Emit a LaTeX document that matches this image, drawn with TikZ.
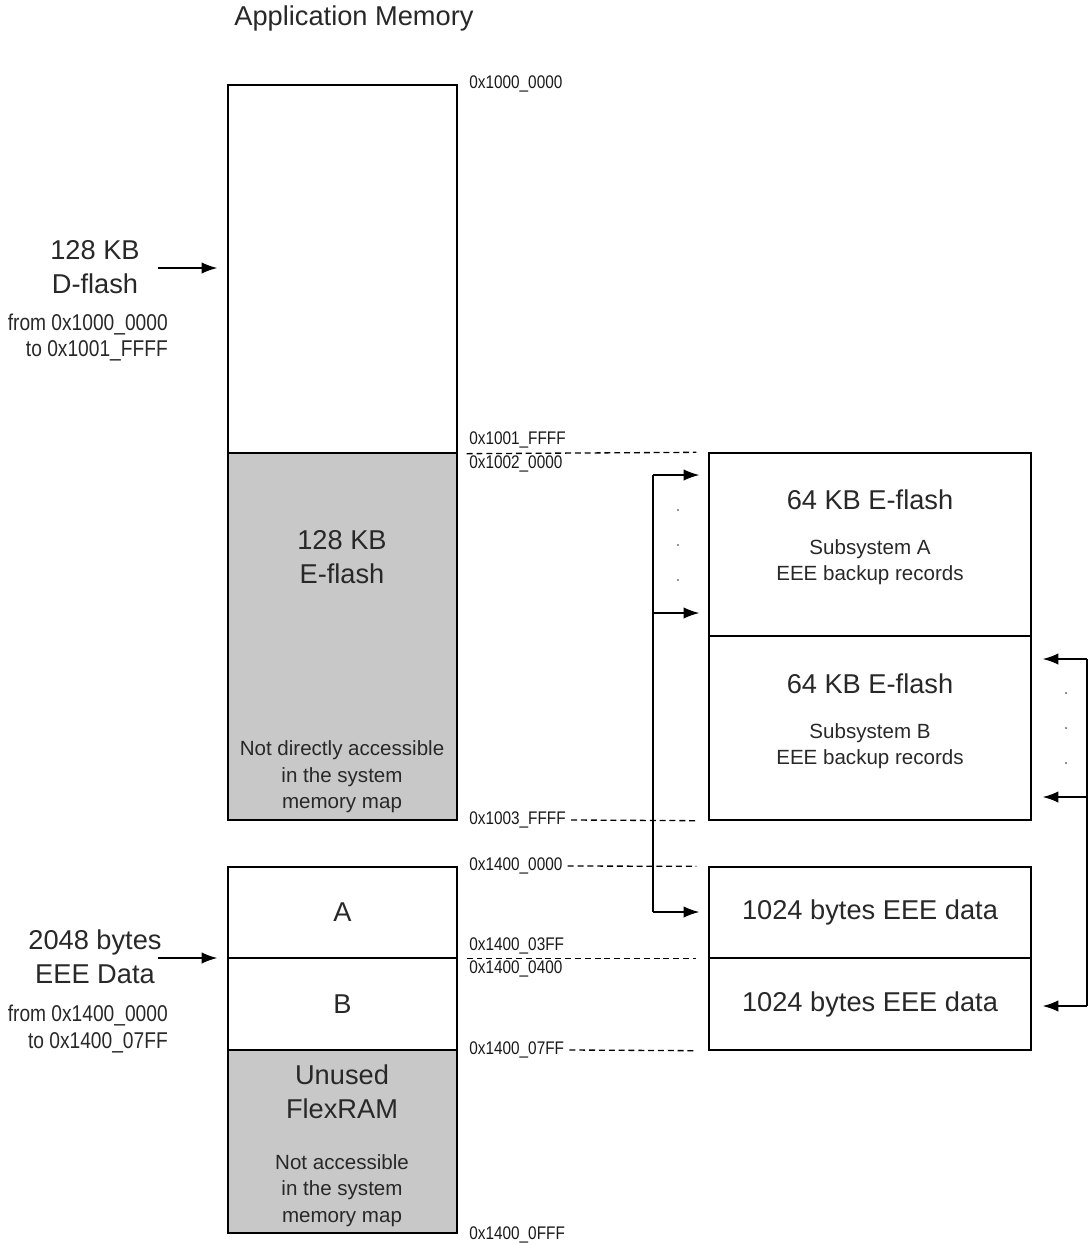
\documentclass[tikz,border=0pt]{standalone}
\usepackage{fontspec}
\setmainfont{Liberation Sans}
\newfontfamily\narrowfont[FakeStretch=0.84]{Liberation Sans}
\usetikzlibrary{arrows.meta,positioning,calc}
\definecolor{memgray}{RGB}{200,200,200}
\definecolor{memtext}{RGB}{40,40,40}

\begin{document}
\begin{tikzpicture}[x=0.02cm, y=-0.02cm,
  memblock/.style={draw, line width=0.8pt, minimum width=4.58cm, inner sep=0pt},
  eeeblock/.style={draw, line width=0.8pt, minimum width=6.44cm, inner sep=0pt},
  bigtxt/.style={font=\fontsize{15.5}{19.5}\selectfont, text=memtext, align=center},
  smalltxt/.style={font=\fontsize{11.7}{15}\selectfont, text=memtext, align=center},
  addr/.style={font=\narrowfont\fontsize{10.4}{11}\selectfont, text=black!90, anchor=west, inner sep=0pt},
  rangetxt/.style={font=\narrowfont\fontsize{13}{15.3}\selectfont, text=memtext, align=right},
  arr/.style={-{Latex[length=9pt,width=6.5pt]}, line width=0.8pt},
  addrline/.style={dash pattern=on 3.4pt off 2.2pt, line width=0.75pt},
  dot/.style={fill=black!55}]
  \useasboundingbox (0,0) rectangle (1090,1245);

  \node[bigtxt] (title) at (354,18) {Application Memory};

  % application memory column
  \node[memblock, minimum height=7.36cm] (dflash) at (342.5,269) {};
  \node[memblock, fill=memgray, minimum height=7.34cm] (eflash) at (342.5,636.5) {};
  \node[bigtxt] (eflashname) at (342,557) {128 KB\\E-flash};
  \node[smalltxt] (eflashnote) at (342,777) {Not directly accessible\\in the system\\memory map};
  \node[memblock, bigtxt, minimum height=1.82cm] (blkA) at (342.5,912.5) {A};
  \node[memblock, bigtxt, minimum height=1.84cm] (blkB) at (342.5,1004) {B};
  \node[memblock, fill=memgray, minimum height=3.66cm] (unused) at (342.5,1141.5) {};
  \node[bigtxt] (unusedname) at (342,1091.5) {Unused\\FlexRAM};
  \node[smalltxt] (unusednote) at (342,1190.5) {Not accessible\\in the system\\memory map};

  % EEE column
  \node[eeeblock, minimum height=3.66cm] (subA) at (870,544.5) {};
  \node[bigtxt] (subAname) at (870,500) {64 KB E-flash};
  \node[smalltxt] (subAnote) at (870,562) {Subsystem A\\EEE backup records};
  \node[eeeblock, minimum height=3.68cm] (subB) at (870,728) {};
  \node[bigtxt] (subBname) at (870,684) {64 KB E-flash};
  \node[smalltxt] (subBnote) at (870,746) {Subsystem B\\EEE backup records};
  \node[eeeblock, bigtxt, minimum height=1.82cm] (dataA) at (870,912.5) {1024 bytes EEE data};
  \node[eeeblock, bigtxt, minimum height=1.84cm] (dataB) at (870,1004) {1024 bytes EEE data};

  % addresses
  \node[addr] (a10000000) at (469,84) {0x1000\_0000};
  \node[addr] (a1001FFFF) at (469,440) {0x1001\_FFFF};
  \node[addr] (a10020000) at (469,464) {0x1002\_0000};
  \node[addr] (a1003FFFF) at (469,820) {0x1003\_FFFF};
  \node[addr] (a14000000) at (469,866) {0x1400\_0000};
  \node[addr] (a140003FF) at (469,946) {0x1400\_03FF};
  \node[addr] (a14000400) at (469,969) {0x1400\_0400};
  \node[addr] (a140007FF) at (469,1050) {0x1400\_07FF};
  \node[addr] (a14000FFF) at (469,1235) {0x1400\_0FFF};

  \draw[addrline] ($(dflash.south east)+(9,0)$) -- ($(subA.north west)+(-12,0)$);
  \draw[addrline] ($(a1003FFFF.east)+(5,0)$) -- ($(subB.south west)+(-12,0)$);
  \draw[addrline] ($(a14000000.east)+(5,0)$) -- ($(dataA.north west)+(-12,0)$);
  \draw[addrline] ($(blkA.south east)+(9,0)$) -- ($(dataA.south west)+(-12,0)$);
  \draw[addrline] ($(a140007FF.east)+(5,0)$) -- ($(dataB.south west)+(-12,0)$);

  % left labels
  \node[bigtxt] (dlabel) at (95,267) {128 KB\\D-flash};
  \node[rangetxt, anchor=east] (drange) at (174,337.5) {from 0x1000\_0000\\to 0x1001\_FFFF};
  \node[bigtxt] (elabel) at (95,956.5) {2048 bytes\\EEE Data};
  \node[rangetxt, anchor=east] (erange) at (174,1029) {from 0x1400\_0000\\to 0x1400\_07FF};
  \coordinate (dtail) at (158,268);
  \coordinate (etail) at (158,958);
  \draw[arr, shorten >=0.2cm] (dtail) -- (dtail -| dflash.west);
  \draw[arr, shorten >=0.2cm] (etail) -- (etail -| blkA.west);

  % subsystem A bracket
  \coordinate (lbtop) at (653,475);
  \coordinate (lbmid) at (653,613);
  \coordinate (lbbot) at (653,912);
  \draw[line width=0.8pt] (lbtop) -- (lbbot);
  \draw[arr, shorten >=0.18cm] (lbtop) -- (lbtop -| subA.west);
  \draw[arr, shorten >=0.18cm] (lbmid) -- (lbmid -| subA.west);
  \draw[arr, shorten >=0.18cm] (lbbot) -- (lbbot -| dataA.west);
  \foreach \y in {510,545,580}
    \fill[dot] (678,\y) circle (0.7pt);

  % subsystem B bracket
  \coordinate (rbtop) at (1087,659);
  \coordinate (rbmid) at (1087,797);
  \coordinate (rbbot) at (1087,1006);
  \draw[line width=0.8pt] (rbtop) -- (rbbot);
  \draw[arr, shorten >=0.22cm] (rbtop) -- (rbtop -| subB.east);
  \draw[arr, shorten >=0.22cm] (rbmid) -- (rbmid -| subB.east);
  \draw[arr, shorten >=0.22cm] (rbbot) -- (rbbot -| dataB.east);
  \foreach \y in {693,728,763}
    \fill[dot] (1066,\y) circle (0.7pt);
\end{tikzpicture}
\end{document}
